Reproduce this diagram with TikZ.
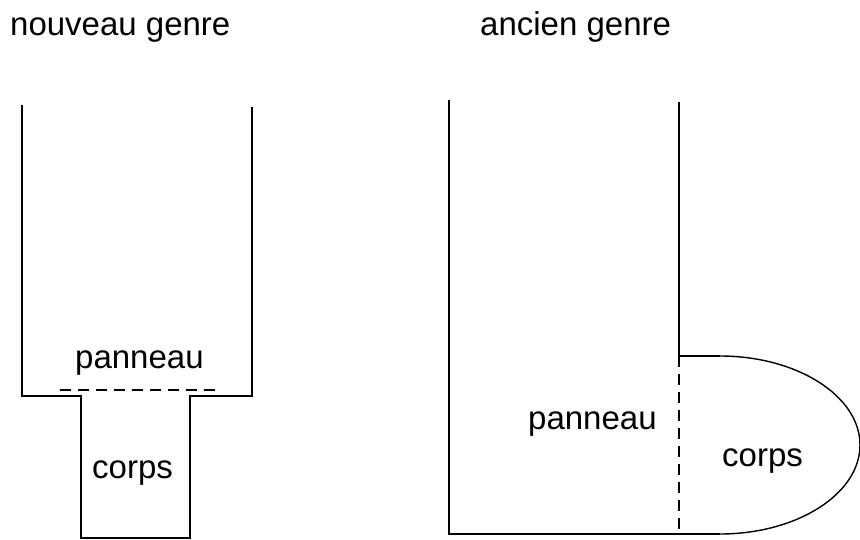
\documentclass[tikz,border=0pt]{standalone}
\usepackage{fontspec}
\setmainfont{Liberation Sans}
\usetikzlibrary{positioning}

\begin{document}
\begin{tikzpicture}[
        x=1pt, y=-1pt,
        outline/.style={draw=black, line width=1.4pt},
        cut/.style={draw=black, line width=1.4pt, dash pattern=on 11pt off 7pt},
        label/.style={anchor=base west, inner sep=0pt, font=\fontsize{33}{38}\selectfont}
    ]
        \useasboundingbox (0,0) rectangle (860,540);

        % Titles
        \node[label] (newtitle) at (10,36) {nouveau genre};
        \node[label] (oldtitle) at (480,36) {ancien genre};

        % Nouveau genre
        \draw[outline] (22,105) -- (22,396) -- (81,396) -- (81,538) -- (190,538) -- (190,396) -- (252,396) -- (252,107);
        \draw[cut] (60,390) -- (218,390);
        \node[label] (newpanel) at (75,368) {panneau};
        \node[label] (newbody) at (92,478) {corps};

        % Ancien genre
        \draw[outline] (449,100) -- (449,534) -- (720,534);
        \draw[outline] (679,102) -- (679,356) -- (720,356);
        \draw[outline] (720,356) .. controls (797,356) and (860,396) .. (860,445)
            .. controls (860,494) and (797,534) .. (720,534);
        \draw[cut] (679,356) -- (679,534);
        \node[label] (oldpanel) at (528,429) {panneau};
        \node[label] (oldbody) at (722,466) {corps};
    \end{tikzpicture}
\end{document}
